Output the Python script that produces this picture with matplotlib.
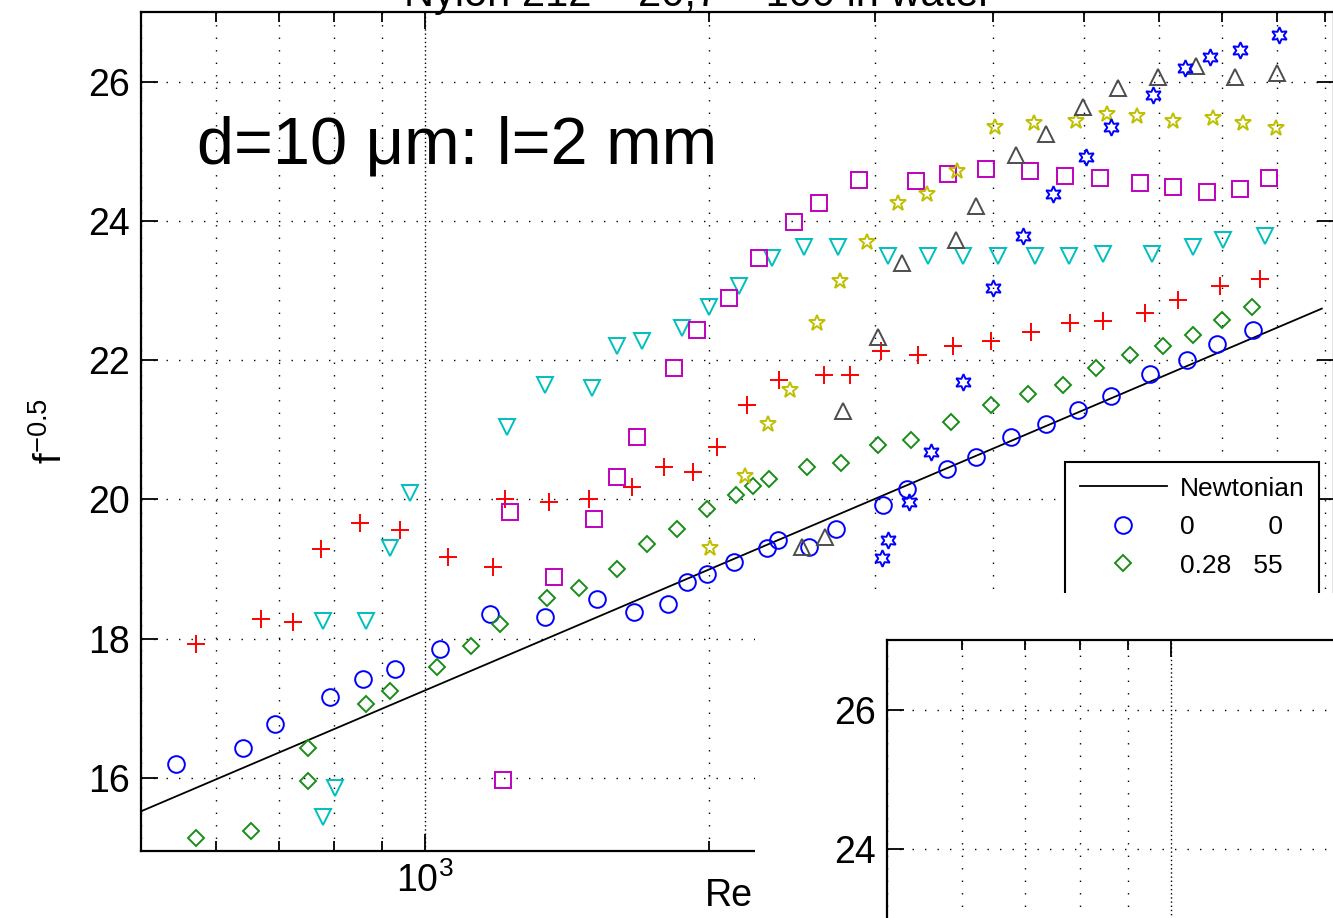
import matplotlib
matplotlib.use('Agg')
import matplotlib.pyplot as plt
from matplotlib.ticker import LogLocator, NullFormatter

plt.rcParams['font.family'] = ['Liberation Sans', 'DejaVu Sans']
plt.rcParams['mathtext.fontset'] = 'custom'
plt.rcParams['mathtext.rm'] = 'Liberation Sans'
plt.rcParams['mathtext.it'] = 'Liberation Sans:italic'

# --- data (Re, f^-0.5) ---
newt_re = [500, 8930]
newt_f = [15.52, 22.74]

c0_re = [544, 641, 693, 793, 860, 929, 1037, 1172, 1341, 1522, 1666, 1810, 1896, 1991,
         2126, 2305, 2368, 2554, 2728, 3060, 3244, 3578, 3840, 4182, 4555, 4926, 5339,
         5872, 6428, 6917, 7551]
c0_f = [16.20, 16.43, 16.77, 17.16, 17.42, 17.56, 17.85, 18.35, 18.31, 18.57, 18.38, 18.50,
        18.81, 18.93, 19.10, 19.30, 19.41, 19.31, 19.57, 19.92, 20.15, 20.43, 20.61, 20.89,
        21.08, 21.28, 21.49, 21.80, 22.00, 22.23, 22.43]

c1_re = [572, 654, 751, 751, 866, 918, 1030, 1119, 1201, 1347, 1457, 1598, 1720, 1850, 1991,
         2137, 2227, 2316, 2542, 2761, 3023, 3277, 3613, 3983, 4359, 4749, 5147, 5593, 6062,
         6523, 7002, 7534]
c1_f = [15.14, 15.24, 16.43, 15.96, 17.06, 17.25, 17.59, 17.89, 18.21, 18.58, 18.73, 19.00,
        19.36, 19.57, 19.86, 20.07, 20.19, 20.29, 20.46, 20.52, 20.78, 20.86, 21.11, 21.35,
        21.51, 21.64, 21.88, 22.07, 22.21, 22.36, 22.57, 22.77]

c2_re = [572, 670, 724, 776, 853, 941, 1058, 1181, 1216, 1354, 1493, 1658, 1793, 1924, 2040,
         2195, 2374, 2650, 2823, 3045, 3333, 3630, 3983, 4391, 4831, 5236, 5801, 6288, 6967,
         7683]
c2_f = [17.92, 18.28, 18.24, 19.29, 19.66, 19.56, 19.17, 19.03, 20.00, 19.96, 20.00, 20.18,
        20.46, 20.39, 20.75, 21.35, 21.71, 21.78, 21.78, 22.13, 22.07, 22.21, 22.28, 22.41,
        22.53, 22.56, 22.67, 22.86, 23.07, 23.17]

c3_re = [780, 803, 780, 866, 918, 964, 1222, 1341, 1504, 1598, 1699, 1873, 2000, 2153, 2333,
         2523, 2742, 3097, 3415, 3720, 4051, 4435, 4819, 5236, 5901, 6523, 7018, 7777]
c3_f = [15.44, 15.86, 18.25, 18.25, 19.30, 20.09, 21.04, 21.64, 21.60, 22.21, 22.27, 22.46,
        22.77, 23.07, 23.46, 23.63, 23.63, 23.50, 23.49, 23.49, 23.49, 23.49, 23.49, 23.52,
        23.53, 23.62, 23.72, 23.79]

c4_re = [1210, 1231, 1370, 1511, 1598, 1678, 1837, 1943, 2101, 2260, 2462, 2617, 2886, 3317,
         3586, 3935, 4381, 4772, 5197, 5731, 6212, 6750, 7316, 7852]
c4_f = [15.97, 19.82, 18.88, 19.72, 20.32, 20.89, 21.88, 22.43, 22.89, 23.46, 23.99, 24.25,
        24.59, 24.57, 24.68, 24.75, 24.71, 24.64, 24.61, 24.54, 24.49, 24.42, 24.46, 24.61]

c5_re = [2005, 2184, 2310, 2439, 2605, 2755, 2943, 3174, 3407, 3666, 4023, 4424, 4901, 5287,
         5689, 6212, 6849, 7369, 7988]
c5_f = [19.30, 20.33, 21.08, 21.57, 22.54, 23.14, 23.69, 24.26, 24.39, 24.72, 25.35, 25.40,
        25.43, 25.54, 25.51, 25.43, 25.48, 25.40, 25.34]

c6_re = [2511, 2656, 2775, 3023, 3205, 3657, 3840, 4234, 4555, 4987, 5431, 5988, 6571, 7228,
         8008]
c6_f = [19.31, 19.46, 21.27, 22.33, 23.40, 23.73, 24.22, 24.95, 25.25, 25.64, 25.91, 26.07,
        26.22, 26.07, 26.13]

c7_re = [3052, 3097, 3261, 3440, 3720, 4002, 4306, 4635, 5023, 5339, 5916, 6396, 6799, 7316,
         8047]
c7_f = [19.16, 19.41, 19.96, 20.68, 21.68, 23.03, 23.78, 24.38, 24.92, 25.35, 25.81, 26.20,
        26.36, 26.46, 26.67]

legend_labels = ['Newtonian', '0' + ' ' * 10 + '0', '0.28   55', '', '', '', '', '', '']


def style_axes(a):
    a.set_xscale('log')
    a.set_xlim(500, 9200)
    a.set_ylim(14.95, 27)
    a.xaxis.set_major_locator(LogLocator(base=10))
    a.xaxis.set_minor_locator(LogLocator(base=10, subs=range(2, 10)))
    a.xaxis.set_minor_formatter(NullFormatter())
    a.xaxis.grid(True, which='major', color='k', linestyle=(0, (1, 2)), linewidth=1.0)
    a.xaxis.grid(True, which='minor', color='k', linestyle=(0, (1, 8)), linewidth=1.0)
    a.yaxis.grid(True, which='major', color='k', linestyle=(0, (1, 8)), linewidth=1.0)
    a.tick_params(which='both', direction='in', top=True, right=True, width=1.3, labelsize=27)
    a.tick_params(which='major', length=12, pad=8)
    a.tick_params(which='minor', length=7)
    for s in a.spines.values():
        s.set_linewidth(1.6)


fig = plt.figure(figsize=(13.33, 9.18), dpi=100)
W, H = 1333.0, 918.0

# main axes (right edge runs just past the picture)
ax = fig.add_axes([141 / W, 67 / H, 1193 / W, 839 / H])

series = [
    (c0_re, c0_f, 'o', (0, 0, 1), 12),
    (c1_re, c1_f, 'D', (0.1, 0.55, 0.1), 8.5),
    (c2_re, c2_f, '+', (1, 0, 0), 13),
    (c3_re, c3_f, 'v', (0, 0.75, 0.75), 11),
    (c4_re, c4_f, 's', (0.75, 0, 0.75), 11.5),
    (c5_re, c5_f, '*', (0.75, 0.75, 0), 12),
    (c6_re, c6_f, '^', (0.3, 0.3, 0.3), 11),
    (c7_re, c7_f, (6, 1, 0), (0, 0, 1), 12),
]

hline, = ax.plot(newt_re, newt_f, color='k', lw=1.3)
handles = [hline]
for xs, ys, m, col, ms in series:
    h, = ax.plot(xs, ys, linestyle='none', marker=m, markersize=ms, markeredgecolor=col,
                 markerfacecolor='none', markeredgewidth=1.4, color=col)
    handles.append(h)

style_axes(ax)
ax.set_yticks([16, 18, 20, 22, 24, 26])

ax.set_xlabel('Re', fontsize=27, ha='left')
ax.xaxis.set_label_coords((705 - 141) / 1193, -0.032)
ax.set_ylabel(r'$\mathregular{f^{-0.5}}$', fontsize=28)
ax.yaxis.set_label_coords(-0.06, 0.5)

# title sits mostly above the cropped picture, as in the source
fig.text(698 / W, 1 - 6 / H, 'Nylon 212 \u2013 20,7 \u2013 100 in water', fontsize=30,
         ha='center', va='baseline')

leg = ax.legend(handles, legend_labels, loc='upper left',
                bbox_to_anchor=(1065 / W, 1 - 462 / H), bbox_transform=fig.transFigure,
                borderaxespad=0, fontsize=19, handlelength=3.3, handletextpad=0.5,
                labelspacing=0.55, borderpad=0.55, fancybox=False, framealpha=1,
                edgecolor='k')
leg.get_frame().set_linewidth(1.5)

fig.text(197 / W, 1 - 163 / H, 'd=10 \u03bcm: l=2 mm', fontsize=48, ha='left',
         va='baseline')

# pasted second panel in the lower right corner
bg = fig.add_axes([755 / W, 0, (W - 755) / W, (H - 593) / H])
bg.set_xticks([])
bg.set_yticks([])
for s in bg.spines.values():
    s.set_visible(False)
bg.set_facecolor('white')

# same size as the main axes, shifted so only its top-left corner shows
ax2 = fig.add_axes([887 / W, (H - 640 - 839) / H, 1193 / W, 839 / H])
style_axes(ax2)
ax2.set_yticks([24, 26])
ax2.tick_params(labelbottom=False)

fig.savefig('out.png', dpi=100)
